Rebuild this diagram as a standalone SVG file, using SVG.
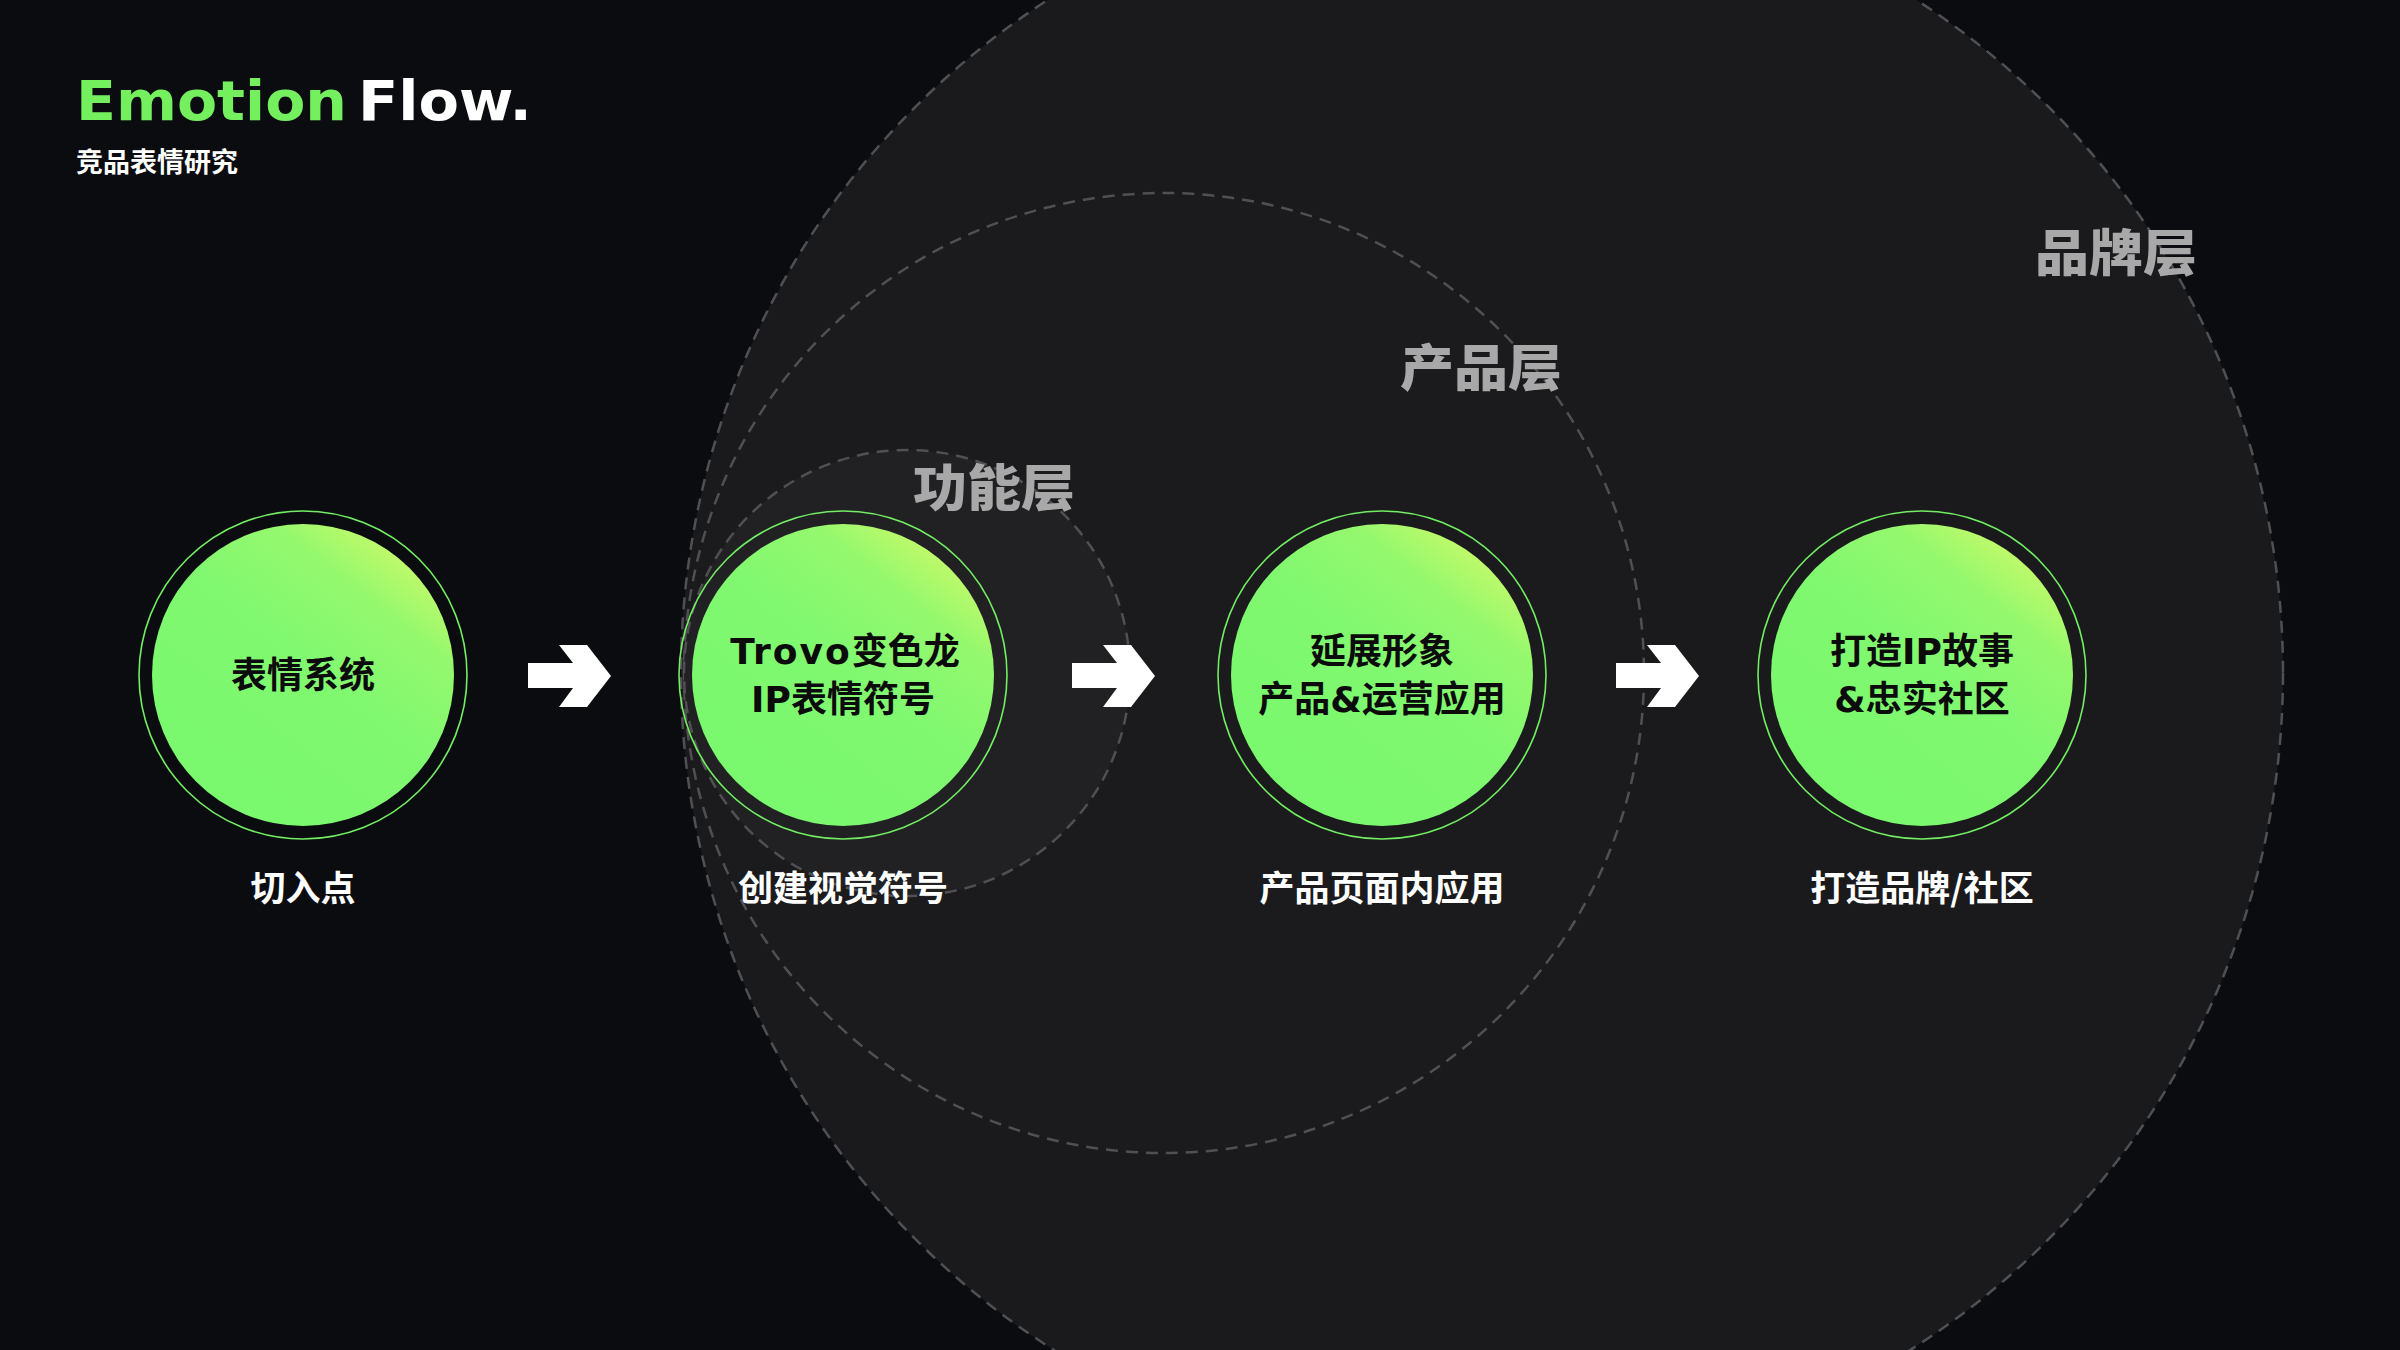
<svg xmlns="http://www.w3.org/2000/svg" width="2400" height="1350" viewBox="0 0 2400 1350">
  <defs>
    <linearGradient id="ballGrad" x1="0.9" y1="0.08" x2="0.3" y2="0.85">
      <stop offset="0" stop-color="#cffa68"/>
      <stop offset="0.25" stop-color="#95f86e"/>
      <stop offset="0.55" stop-color="#80f870"/>
      <stop offset="1" stop-color="#7af86e"/>
    </linearGradient>
    <style>
      .layer { stroke: #505053; stroke-width: 2.5; stroke-dasharray: 12 8; }
      .ring { fill: none; stroke: #72ee62; stroke-width: 1.6; }
      .ball { fill: url(#ballGrad); }
      .ntext { font-family: "DejaVu Sans", "Noto Sans CJK SC", sans-serif; font-weight: 700; font-size: 36px; fill: #0b0b0b; text-anchor: middle; }
      .label { font-family: "Noto Sans CJK SC", "Noto Sans", sans-serif; font-weight: 700; font-size: 35px; fill: #ffffff; text-anchor: middle; }
      .layerlabel { font-family: "Noto Sans CJK SC", sans-serif; font-weight: 900; font-size: 50px; fill: #a8a8a8; }
      .arrow { fill: #ffffff; }
      .title { font-family: "DejaVu Sans", sans-serif; font-weight: 700; font-size: 56px; }
    </style>
  </defs>

  <rect width="2400" height="1350" fill="#0b0c10"/>

  <!-- layer circles -->
  <g id="layers">
    <circle id="brand-layer" class="layer" cx="1482" cy="673" r="801" fill="#1a1a1d"/>
    <circle id="product-layer" class="layer" cx="1164" cy="673" r="480" fill="#1b1b1e"/>
    <circle id="function-layer" class="layer" cx="907" cy="673" r="223" fill="#212124"/>
    <text class="layerlabel" x="913" y="506" textLength="162" lengthAdjust="spacingAndGlyphs">功能层</text>
    <text class="layerlabel" x="1400" y="386" textLength="162" lengthAdjust="spacingAndGlyphs">产品层</text>
    <text class="layerlabel" x="2035" y="271" textLength="162" lengthAdjust="spacingAndGlyphs">品牌层</text>
  </g>

  <!-- title -->
  <g id="title">
    <text class="title" x="76" y="120" fill="#74f05f" textLength="271" lengthAdjust="spacingAndGlyphs">Emotion</text>
    <text class="title" x="358" y="120" fill="#ffffff" textLength="174" lengthAdjust="spacingAndGlyphs">Flow.</text>
    <text x="76" y="172" font-family="Noto Sans CJK SC, sans-serif" font-weight="700" font-size="27" fill="#ffffff">竞品表情研究</text>
  </g>

  <!-- connectors -->
  <g id="connectors">
    <polygon class="arrow" points="528,663 573,663 559,645 587,645 611,676 587,707 559,707 573,688 528,688"/>
    <polygon class="arrow" points="1072,663 1117,663 1103,645 1131,645 1155,676 1131,707 1103,707 1117,688 1072,688"/>
    <polygon class="arrow" points="1616,663 1661,663 1647,645 1675,645 1699,676 1675,707 1647,707 1661,688 1616,688"/>
  </g>

  <!-- nodes -->
  <g id="node-1">
    <circle class="ring" cx="303" cy="675" r="164"/>
    <circle class="ball" cx="303" cy="675" r="151"/>
    <text class="ntext" x="303" y="688">表情系统</text>
    <text class="label" x="303" y="901">切入点</text>
  </g>

  <g id="node-2">
    <circle class="ring" cx="843" cy="675" r="164"/>
    <circle class="ball" cx="843" cy="675" r="151"/>
    <text class="ntext" x="845" y="664"><tspan letter-spacing="2">Trovo</tspan>变色龙</text>
    <text class="ntext" x="843" y="712">IP表情符号</text>
    <text class="label" x="843" y="901">创建视觉符号</text>
  </g>

  <g id="node-3">
    <circle class="ring" cx="1382" cy="675" r="164"/>
    <circle class="ball" cx="1382" cy="675" r="151"/>
    <text class="ntext" x="1382" y="664">延展形象</text>
    <text class="ntext" x="1382" y="712">产品&amp;运营应用</text>
    <text class="label" x="1382" y="901">产品页面内应用</text>
  </g>

  <g id="node-4">
    <circle class="ring" cx="1922" cy="675" r="164"/>
    <circle class="ball" cx="1922" cy="675" r="151"/>
    <text class="ntext" x="1922" y="664">打造IP故事</text>
    <text class="ntext" x="1922" y="712">&amp;忠实社区</text>
    <text class="label" x="1922" y="901">打造品牌/社区</text>
  </g>
</svg>
